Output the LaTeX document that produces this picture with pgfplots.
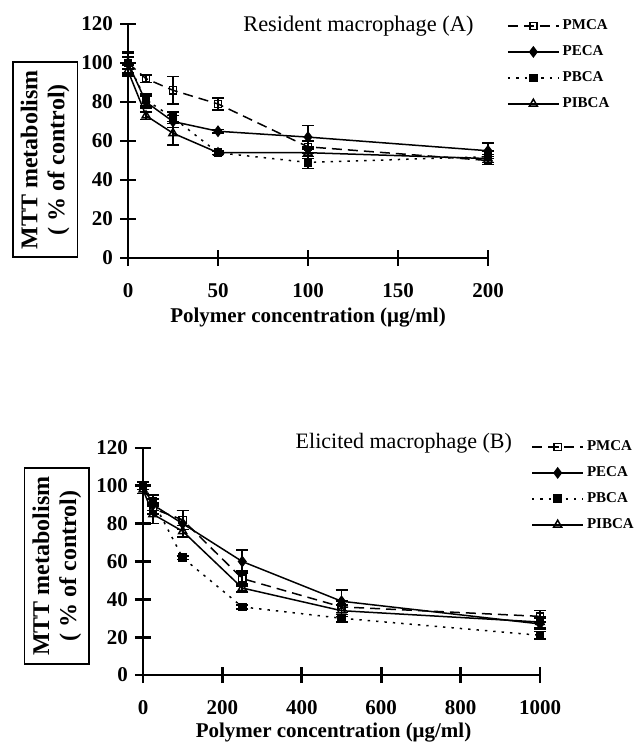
\documentclass[border=0pt]{standalone}
\usepackage{fontspec}
\setmainfont{Liberation Serif}
\usepackage{pgfplots}
\pgfplotsset{compat=1.18}

\pgfplotsset{
  mtt/.style={
    scale only axis,
    axis lines=left,
    axis line style={line width=1.4pt,-},
    enlargelimits=false,
    clip=false,
    ymin=0, ymax=120, ytick={0,20,...,120},
    tick align=center,
    major tick length=8pt,
    every tick/.style={line width=1.4pt, black},
    ticklabel style={font=\fontsize{10.5}{12}\selectfont\bfseries},
    /pgf/number format/assume math mode=true,
    /pgf/number format/1000 sep={},
    xticklabel style={yshift=-5pt},
    yticklabel style={xshift=0pt},
    xlabel={Polymer concentration (μg/ml)},
    xlabel style={font=\fontsize{10.5}{12}\selectfont\bfseries, anchor=center},
    ylabel={MTT metabolism\\( \% of control)},
    ylabel style={draw, line width=0.9pt, align=center, anchor=center,
      font=\fontsize{12}{13.5}\selectfont\bfseries, inner sep=4pt},
    legend style={draw=none, fill=none, anchor=north west,
      font=\fontsize{7.5}{8.5}\selectfont\bfseries, row sep=2.5pt,
      legend cell align=left,
      nodes={inner xsep=1.5pt}},
    legend image code/.code={
      \draw[mark repeat=2,mark phase=2] plot coordinates {(0cm,0cm)(0.45cm,0cm)(0.9cm,0cm)};},
    every axis plot/.append style={line width=0.75pt, black},
    error bars/y dir=both, error bars/y explicit,
    error bars/error bar style={line width=0.8pt, solid},
    error bars/error mark options={line width=0.8pt, mark size=3pt, rotate=90},
  },
  pmca/.style={dash pattern=on 5pt off 3pt, mark=square, mark size=1.8pt, mark options={solid, fill=white}},
  peca/.style={solid, mark=diamond*, mark size=2.4pt, mark options={solid}},
  pbca/.style={dash pattern=on 1.2pt off 3pt, mark=square*, mark size=1.8pt, mark options={solid}},
  pibca/.style={solid, mark=triangle, mark size=2.3pt, mark options={solid, fill=white}},
}

\begin{document}
\begin{tikzpicture}
\useasboundingbox (0,0) rectangle (318.5pt,-374.5pt);

% Resident macrophage (A)
\begin{axis}[mtt,
    at={(64pt,-129pt)}, anchor=south west,
    width=180pt, height=117pt,
    xmin=0, xmax=200, xtick={0,50,...,200},
    xlabel style={at={(axis description cs:0.5,-0.256)}},
    ylabel style={at={(axis description cs:-0.23,0.42)}},
    legend style={at={(axis description cs:1.035,1.055)}},
  ]
  \addplot[pmca] coordinates {
    (0,100) +- (0,5) (10,92) +- (0,2) (25,86) +- (0,7)
    (50,79) +- (0,3) (100,57) +- (0,3) (200,50) +- (0,2)};
  \addplot[peca] coordinates {
    (0,100) +- (0,6) (10,80) +- (0,3) (25,70) +- (0,3)
    (50,65) +- (0,1) (100,62) +- (0,6) (200,55) +- (0,4)};
  \addplot[pbca] coordinates {
    (0,100) +- (0,3) (10,81) +- (0,3) (25,72) +- (0,3)
    (50,54) +- (0,1) (100,49) +- (0,3) (200,52) +- (0,3)};
  \addplot[pibca] coordinates {
    (0,96) +- (0,3) (10,73) +- (0,2) (25,64) +- (0,6)
    (50,54) +- (0,1) (100,54) +- (0,3) (200,51) +- (0,2)};
  \legend{PMCA, PECA, PBCA, PIBCA}
  \node[font=\fontsize{11.2}{13}\selectfont] at (axis description cs:0.64,0.99) {Resident macrophage (A)};
\end{axis}

% Elicited macrophage (B)
\begin{axis}[mtt,
    at={(71.5pt,-337.5pt)}, anchor=south west,
    width=198.5pt, height=113.5pt,
    xmin=0, xmax=1000, xtick={0,200,...,1000},
    xlabel style={at={(axis description cs:0.48,-0.255)}},
    ylabel style={at={(axis description cs:-0.217,0.48)}},
    legend style={at={(axis description cs:0.962,1.07)}},
  ]
  \addplot[pmca] coordinates {
    (0,100) +- (0,2) (25,88) +- (0,3) (100,82) +- (0,5)
    (250,51) +- (0,4) (500,36) +- (0,3) (1000,31) +- (0,3)};
  \addplot[peca] coordinates {
    (0,100) +- (0,20) (25,90) +- (0,3) (100,80) +- (0,7)
    (250,60) +- (0,6) (500,39) +- (0,6) (1000,27) +- (0,3)};
  \addplot[pbca] coordinates {
    (0,100) +- (0,2) (25,92) +- (0,3) (100,62) +- (0,1)
    (250,36) +- (0,1) (500,30) +- (0,2) (1000,21) +- (0,2)};
  \addplot[pibca] coordinates {
    (0,98) +- (0,2) (25,85) +- (0,5) (100,76) +- (0,3)
    (250,46) +- (0,2) (500,34) +- (0,3) (1000,28) +- (0,3)};
  \legend{PMCA, PECA, PBCA, PIBCA}
  \node[font=\fontsize{11}{13}\selectfont] at (axis description cs:0.657,1.02) {Elicited macrophage (B)};
\end{axis}
\end{tikzpicture}
\end{document}
